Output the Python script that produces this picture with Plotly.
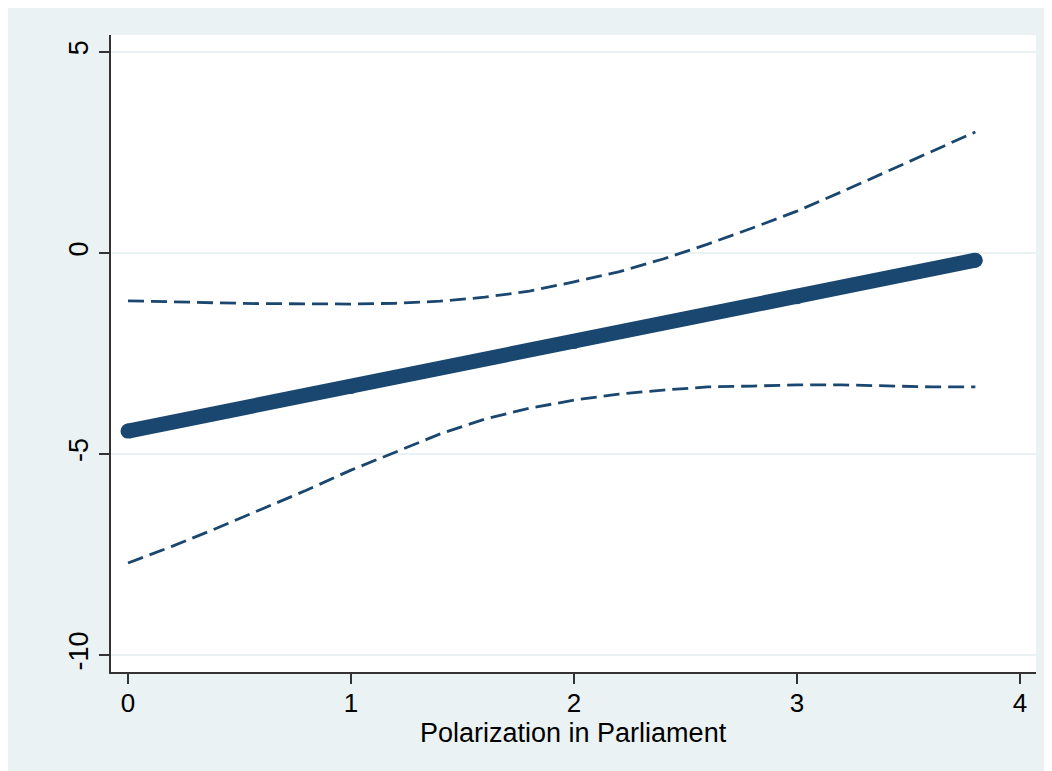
import plotly.graph_objects as go

# Data
x_fit = [0.0, 1.0, 2.0, 3.0, 3.8]
y_fit = [-4.43, -3.32, -2.20, -1.09, -0.18]

x_ci = [0.0, 0.2, 0.4, 0.6, 0.8, 1.0, 1.2, 1.4, 1.6, 1.8, 2.0, 2.2, 2.4, 2.6, 2.8, 3.0, 3.2, 3.4, 3.6, 3.8]
y_upper = [-1.19, -1.22, -1.24, -1.26, -1.27, -1.27, -1.25, -1.2, -1.1, -0.95, -0.72, -0.47, -0.15, 0.22, 0.62, 1.04, 1.52, 2.01, 2.51, 3.01]
y_lower = [-7.71, -7.29, -6.84, -6.37, -5.9, -5.4, -4.95, -4.5, -4.13, -3.86, -3.66, -3.51, -3.41, -3.33, -3.31, -3.28, -3.28, -3.31, -3.33, -3.33]

x_ticks = [0, 1, 2, 3, 4]
x_tick_text = ["0", "1", "2", "3", "4"]
y_ticks = [-10, -5, 0, 5]
y_tick_text = ["-10", "-5", "0", "5"]
x_title = "Polarization in Parliament"

NAVY = "#1a476f"
BG = "#EAF2F3"
AXIS = "#333333"
FONT = "Liberation Sans, Arial, sans-serif"

fig = go.Figure()
fig.add_trace(go.Scatter(x=x_ci, y=y_upper, mode="lines",
                         line=dict(color=NAVY, width=2.8, dash="16px,7px"),
                         showlegend=False, hoverinfo="skip"))
fig.add_trace(go.Scatter(x=x_ci, y=y_lower, mode="lines",
                         line=dict(color=NAVY, width=2.8, dash="16px,7px"),
                         showlegend=False, hoverinfo="skip"))
fig.add_trace(go.Scatter(x=x_fit, y=y_fit, mode="lines+markers",
                         line=dict(color=NAVY, width=15),
                         marker=dict(color=NAVY, size=15, line=dict(width=0)),
                         showlegend=False))

W, H = 1052, 771
L, R, T, B = 103, 24, 27, 107

fig.add_annotation(text=x_title, xref="paper", yref="paper", x=0.5, y=0,
                   yshift=-61, yanchor="middle", xanchor="center", showarrow=False,
                   font=dict(size=27, family=FONT, color="black"))

fig.update_layout(
    width=W, height=H,
    margin=dict(l=L, r=R, t=T, b=B, autoexpand=False),
    paper_bgcolor=BG, plot_bgcolor="white",
    font=dict(family=FONT, size=27, color="black"),
    xaxis=dict(range=[-0.0763, 4.072], tickvals=x_ticks, ticktext=x_tick_text,
               showgrid=False, zeroline=False, showline=True, linecolor=AXIS,
               linewidth=1.5, ticks="outside", ticklen=10, tickwidth=1.5,
               tickcolor=AXIS, tickfont=dict(size=26, family=FONT),
               ticklabelstandoff=-3),
    yaxis=dict(range=[-10.42, 5.42], tickvals=y_ticks, ticktext=y_tick_text,
               showgrid=True, gridcolor=BG, gridwidth=2, zeroline=False,
               showline=True, linecolor=AXIS, linewidth=1.5, ticks="outside",
               ticklen=10, tickwidth=1.5, tickcolor=AXIS, tickangle=-90,
               tickfont=dict(size=27, family=FONT)),
)

fig.write_html("out.html")
